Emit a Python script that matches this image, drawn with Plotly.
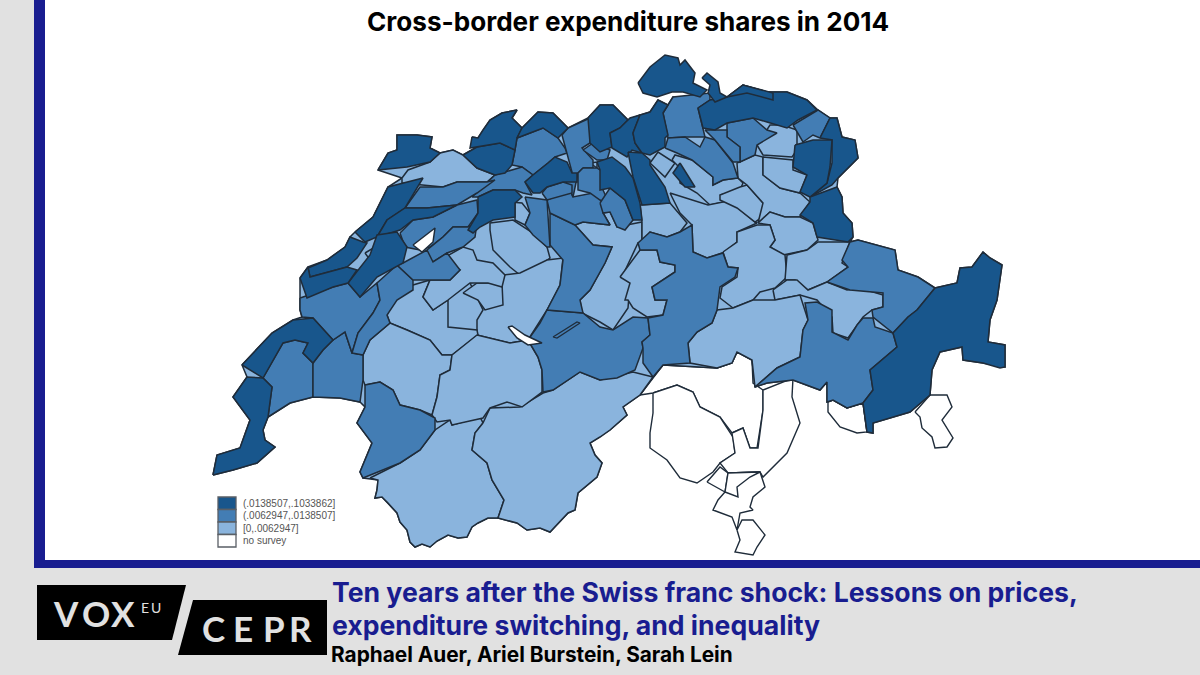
import plotly.graph_objects as go

TITLE = "Cross-border expenditure shares in 2014"
HEADLINE = ["Ten years after the Swiss franc shock: Lessons on prices,",
            "expenditure switching, and inequality"]
AUTHORS = "Raphael Auer, Ariel Burstein, Sarah Lein"

LEGEND_LABELS = ["(.0138507,.1033862]", "(.0062947,.0138507]", "[0,.0062947]", "no survey"]

DARK = "#18568C"
MEDIUM = "#437DB4"
LIGHT = "#8AB4DD"
NONE = "#FFFFFF"
LEGEND_COLORS = [DARK, MEDIUM, LIGHT, NONE]
LINE = "#1F2C3A"
NAVY = "#191D90"
BACK = "#E1E1E1"
LOGO_TEXT = "#E1E1E1"

VOX_LETTERS = ["V", "O", "X"]
VOX_CENTERS = [66, 96, 123]
EU_LETTERS = ["E", "U"]
EU_CENTERS = [145, 156]
CEPR_LETTERS = ["C", "E", "P", "R"]
CEPR_CENTERS = [213, 243, 274, 300]

# district outlines, map units
COUNTRY = [(213,475),(217,455),(240,448),(250,420),(233,397),(247,377),(242,365),(272,333),(293,320),(302,317),(300,310),(300,278),(308,267),(327,260),(345,247),(350,237),(355,232),(373,217),(388,187),(402,178),(378,170),(388,153),(397,150),(397,135),(417,135),(432,137),(430,148),(440,153),(453,150),(463,155),(477,147),(472,137),(478,138),(483,130),(490,120),(502,113),(517,110),(512,118),(522,128),(538,112),(553,113),(568,128),(588,118),(600,105),(613,105),(628,120),(640,115),(650,112),(658,100),(668,105),(673,97),(698,108),(710,100),(727,97),(743,85),(767,92),(787,92),(807,100),(818,110),(830,118),(837,118),(842,137),(855,140),(858,158),(838,178),(837,187),(842,197),(843,213),(852,223),(853,237),(850,242),(858,240),(895,250),(898,270),(918,277),(935,288),(957,283),(960,268),(972,267),(983,252),(990,258),(1002,265),(997,300),(990,320),(988,342),(1005,345),(1005,367),(983,363),(963,360),(962,347),(940,352),(932,370),(930,395),(910,412),(873,423),(873,433),(867,432),(863,403),(847,408),(833,400),(827,402),(827,382),(820,390),(793,380),(767,383),(755,387),(752,360),(737,352),(732,363),(717,368),(663,365),(653,377),(640,395),(623,407),(627,415),(610,430),(590,443),(595,455),(602,463),(597,477),(578,493),(575,510),(568,513),(550,532),(540,528),(527,530),(517,523),(498,518),(488,518),(478,523),(472,527),(467,537),(458,538),(448,535),(437,541),(430,547),(422,544),(415,547),(410,542),(407,530),(400,522),(397,513),(388,503),(382,497),(375,498),(377,490),(378,480),(363,478),(360,472),(372,443),(357,423),(365,407),(360,402),(340,398),(313,397),(290,403),(268,417),(263,430),(265,440),(275,447),(257,463),(233,470)]

NO_SURVEY_REGIONS = [
    [(640,395),(653,378),(663,365),(717,368),(732,363),(737,352),(752,360),(753,383),(763,390),(763,410),(757,448),(750,448),(743,428),(732,433),(720,417),(700,407),(693,392),(677,385),(653,393)],
    [(653,393),(677,385),(693,392),(700,407),(720,417),(733,437),(735,453),(720,463),(713,472),(697,483),(680,478),(667,460),(650,448),(650,433),(653,413)],
    [(732,433),(743,428),(750,448),(758,448),(763,410),(763,390),(793,378),(792,397),(800,423),(787,453),(763,477),(760,472),(728,473),(720,463),(735,453),(733,437)],
    [(728,473),(760,472),(765,487),(753,497),(750,507),(753,510),(740,513),(737,530),(732,517),(713,510),(718,500),(725,492)],
    [(707,482),(720,467),(728,473),(725,492)],
    [(725,492),(738,497),(737,487),(750,477),(760,472),(728,473)],
    [(737,530),(742,520),(753,520),(765,535),(757,547),(753,555),(735,552),(740,540)],
    [(828,402),(833,400),(847,408),(863,403),(867,432),(857,433),(840,427),(828,412)],
    [(915,412),(930,395),(947,395),(952,407),(942,420),(953,438),(947,447),(935,448),(932,437),(922,428),(920,417)],
]

LIGHT_REGIONS = [
    [(490,223),(513,220),(533,233),(547,247),(550,258),(533,270),(520,275),(510,267),(493,250),(490,230)],
    [(503,275),(520,273),(547,260),(563,258),(560,285),(547,310),(528,340),(510,343),(477,335),(477,320),(483,310),(478,300),(470,283)],
    [(463,293),(477,283),(502,283),(503,305),(485,310),(478,300)],
    [(393,302),(413,285),(430,280),(423,297),(433,310),(448,300),(448,327),(477,330),(478,335),(452,355),(442,355),(430,340),(407,330),(390,323),(387,315)],
    [(440,260),(463,247),(473,250),(477,260),(493,263),(505,275),(502,287),(488,283),(470,283),(448,300),(433,310),(423,297),(430,280),(450,280),(460,270)],
    [(370,478),(400,463),(420,450),(435,430),(450,420),(452,425),(480,417),(483,423),(475,433),(472,450),(487,463),(492,480),(504,500),(498,518),(488,518),(478,523),(472,527),(467,537),(458,538),(448,535),(437,541),(430,547),(422,544),(415,547),(410,542),(407,530),(400,522),(397,513),(388,503),(382,497),(375,498),(377,490),(378,480)],
    [(483,423),(490,408),(520,407),(543,393),(553,390),(580,372),(600,380),(633,372),(653,377),(640,395),(623,407),(627,415),(610,430),(600,437),(590,443),(595,455),(602,463),(597,477),(578,493),(575,510),(568,513),(550,532),(540,528),(527,530),(517,523),(498,518),(504,500),(492,480),(487,463),(472,450),(475,433)],
    [(363,380),(363,355),(370,340),(390,323),(407,330),(430,340),(442,355),(452,355),(450,370),(440,375),(437,397),(432,415),(420,410),(400,405),(393,390),(380,382),(365,385)],
    [(452,355),(477,335),(510,343),(528,340),(538,357),(542,370),(542,392),(522,407),(507,402),(490,408),(483,418),(452,425),(450,420),(437,422),(432,415),(437,397),(440,375),(450,370)],
    [(582,313),(580,300),(590,290),(605,263),(612,247),(593,245),(575,225),(583,222),(610,225),(603,213),(610,212),(617,227),(642,222),(642,242),(638,243),(622,277),(630,283),(628,308),(613,330),(600,322)],
    [(620,277),(640,250),(657,250),(660,262),(675,265),(675,272),(652,287),(655,300),(667,300),(663,315),(647,317),(633,308),(628,300),(625,300),(630,283)],
    [(640,205),(670,203),(687,223),(680,232),(667,237),(650,232),(642,242),(642,222)],
    [(650,163),(658,152),(675,163),(665,177)],
    [(672,160),(675,155),(692,160),(713,177),(713,185),(723,180),(738,178),(743,183),(740,190),(720,195),(733,200),(710,205),(697,193),(680,183),(680,168)],
    [(670,193),(708,205),(733,200),(737,207),(755,222),(757,223),(737,232),(737,242),(725,252),(707,258),(693,252),(692,225),(680,213)],
    [(740,187),(747,185),(763,203),(762,217),(755,222),(737,208),(720,200),(720,195)],
    [(737,163),(755,155),(763,157),(763,175),(780,188),(800,193),(810,202),(800,217),(785,217),(770,212),(758,223),(763,203),(747,185),(738,178)],
    [(763,157),(793,160),(793,170),(807,175),(800,193),(780,188),(763,175)],
    [(757,145),(770,125),(782,125),(797,130),(797,150),(792,157),(763,155)],
    [(758,223),(770,212),(785,217),(800,217),(813,223),(818,240),(807,250),(783,255),(770,247),(775,240),(770,225)],
    [(723,252),(737,242),(737,232),(757,225),(770,225),(775,240),(770,247),(785,255),(787,277),(775,288),(760,292),(753,300),(733,308),(720,298),(722,287),(737,277),(738,268),(728,267)],
    [(787,255),(807,250),(818,242),(827,242),(850,242),(842,263),(848,267),(827,282),(808,290),(795,280),(785,280)],
    [(773,290),(787,280),(797,280),(808,290),(827,282),(847,290),(860,288),(883,295),(883,307),(872,310),(863,317),(857,325),(848,338),(833,333),(832,317),(817,300),(800,295),(775,300)],
    [(688,343),(697,332),(712,323),(717,310),(733,308),(753,300),(775,300),(800,295),(808,320),(803,330),(800,357),(777,368),(755,387),(752,360),(737,352),(732,363),(717,368),(690,363)],
    [(402,178),(408,170),(430,162),(440,153),(453,150),(463,155),(477,168),(495,175),(487,182),(457,182),(443,187),(423,185),(402,183)],
    [(590,163),(597,162),(597,168)],
    [(510,202),(522,203),(530,213),(525,225),(515,220),(515,203)],
    [(365,253),(375,247),(378,253),(370,260)],
    [(407,270),(422,265),(413,278)],
]

MEDIUM_REGIONS = [
    [(263,378),(283,343),(295,340),(308,343),(303,353),(313,363),(313,397),(290,403),(268,417),(272,387)],
    [(313,363),(323,350),(333,340),(345,332),(352,353),(363,355),(363,380),(360,402),(340,398),(313,397)],
    [(365,385),(380,382),(393,390),(400,405),(420,410),(435,418),(435,430),(420,450),(400,463),(363,478),(360,472),(372,443),(357,423),(365,407)],
    [(528,340),(540,323),(547,310),(583,313),(600,327),(613,330),(633,317),(648,318),(650,335),(642,342),(643,348),(635,370),(617,378),(600,380),(580,372),(553,390),(543,392),(542,370),(538,357)],
    [(643,348),(642,342),(650,335),(648,318),(663,315),(667,300),(655,300),(652,287),(675,272),(675,265),(660,262),(657,250),(640,250),(638,243),(650,232),(667,237),(680,232),(692,225),(693,252),(707,258),(723,253),(728,267),(738,268),(735,277),(720,287),(717,310),(712,323),(697,332),(688,343),(690,363),(663,365),(653,377),(643,363)],
    [(550,213),(575,225),(593,245),(612,247),(605,263),(590,290),(580,300),(583,313),(547,310),(560,285),(563,260),(550,245)],
    [(547,200),(570,190),(573,197),(593,193),(610,207),(603,213),(610,225),(583,222),(575,225),(550,213)],
    [(525,197),(547,200),(550,247),(547,247),(533,235),(525,225),(530,213)],
    [(515,150),(517,138),(530,133),(543,128),(558,138),(565,148),(567,153),(555,157),(548,163),(533,175),(522,167),(512,165)],
    [(562,135),(568,128),(590,118),(590,143),(582,148),(593,160),(593,168),(583,168),(578,173),(573,197),(570,190),(563,175),(572,172),(567,153),(565,148)],
    [(542,193),(547,187),(563,182),(572,185),(572,193),(553,198),(547,200)],
    [(472,197),(495,175),(522,167),(533,175),(525,182),(532,195),(523,193),(515,190),(493,190),(478,197)],
    [(405,208),(420,187),(443,187),(457,182),(487,182),(495,180),(477,193),(457,205),(427,208)],
    [(400,233),(413,220),(433,217),(457,205),(477,200),(478,213),(468,227),(453,227),(443,237),(430,247),(420,250),(405,247)],
    [(427,250),(443,237),(453,227),(468,227),(477,223),(475,237),(463,247),(447,253),(433,262),(427,257)],
    [(300,298),(333,287),(348,283),(360,297),(377,283),(380,300),(373,313),(358,333),(352,353),(345,332),(333,340),(313,318),(302,317),(300,310)],
    [(377,283),(397,265),(413,280),(413,290),(397,300),(387,315),(390,323),(370,340),(363,355),(352,353),(358,333),(373,313),(380,300)],
    [(403,263),(427,250),(433,262),(447,253),(460,270),(450,280),(430,280),(413,280),(397,265)],
    [(583,150),(593,143),(610,150),(607,160),(597,160)],
    [(583,168),(597,168),(600,170),(610,170),(603,190),(610,205),(600,200),(590,193),(578,190),(578,173)],
    [(600,203),(610,188),(625,200),(633,220),(625,230),(617,227),(610,212),(603,213)],
    [(663,113),(673,97),(710,93),(710,100),(698,108),(703,128),(705,137),(685,137),(668,138)],
    [(665,148),(668,138),(685,137),(700,147),(705,137),(715,140),(733,163),(738,178),(723,180),(713,185),(713,177),(692,160),(677,153)],
    [(727,123),(753,118),(767,130),(777,133),(757,145),(755,155),(740,162),(740,147),(727,137)],
    [(705,130),(727,130),(727,137),(740,147),(740,162),(733,162),(715,140)],
    [(793,125),(818,110),(830,118),(820,138),(813,135),(803,142)],
    [(827,282),(848,267),(842,260),(850,242),(858,240),(895,250),(898,270),(918,277),(935,288),(917,310),(908,317),(893,333),(873,317),(872,310),(883,307),(883,293),(850,290)],
    [(755,387),(777,368),(800,357),(803,330),(808,320),(805,303),(817,302),(832,310),(832,332),(848,340),(857,325),(863,318),(873,318),(875,327),(893,333),(897,347),(870,370),(873,390),(863,403),(847,408),(833,400),(827,402),(827,382),(820,390),(793,380),(767,383)],
]

DARK_REGIONS = [
    [(213,475),(217,455),(240,448),(250,420),(233,397),(247,377),(263,378),(272,387),(268,417),(263,430),(265,440),(275,447),(257,463),(233,470)],
    [(242,365),(272,333),(293,320),(313,318),(333,340),(323,350),(313,363),(303,353),(308,343),(295,340),(283,343),(263,378)],
    [(378,170),(388,153),(397,150),(397,135),(417,135),(432,137),(430,148),(440,153),(430,162),(407,167)],
    [(463,155),(477,147),(500,143),(515,150),(512,165),(505,173),(495,175),(477,168)],
    [(472,137),(478,138),(483,130),(490,120),(502,113),(517,110),(512,118),(522,128),(517,138),(515,150),(500,143),(477,147),(470,148)],
    [(522,128),(538,112),(553,113),(563,123),(568,128),(558,138),(543,128),(530,133),(517,138)],
    [(525,182),(533,175),(548,163),(555,157),(567,162),(572,173),(577,173),(577,182),(563,182),(547,187),(540,193),(533,193)],
    [(355,232),(373,217),(388,187),(423,178),(405,208),(387,220),(377,237),(365,242)],
    [(377,237),(387,220),(405,208),(427,208),(457,205),(433,217),(413,220),(400,230)],
    [(478,197),(493,190),(515,190),(522,197),(515,203),(515,217),(493,220),(480,227),(473,233),(468,230),(478,213)],
    [(348,283),(370,255),(377,235),(397,232),(407,247),(403,263),(377,277),(360,297)],
    [(308,268),(327,260),(345,247),(350,237),(363,242),(367,243),(357,258),(347,267),(310,277)],
    [(300,278),(308,267),(310,277),(347,267),(357,270),(348,283),(333,287),(307,298)],
    [(588,118),(600,105),(613,105),(628,120),(620,128),(610,133),(612,147),(600,152),(590,143)],
    [(610,133),(620,128),(630,118),(640,115),(633,133),(635,143),(642,153),(632,150),(627,157),(612,148)],
    [(633,133),(640,115),(650,112),(658,100),(668,105),(663,113),(668,135),(665,138),(665,147),(650,155),(642,153),(635,143)],
    [(628,152),(642,153),(650,160),(650,165),(665,187),(670,203),(642,205),(633,177)],
    [(597,162),(612,157),(625,167),(633,178),(640,203),(642,220),(633,220),(625,200),(610,188),(600,190),(600,170)],
    [(680,163),(695,187),(685,187),(673,173)],
    [(698,108),(710,100),(727,97),(743,85),(767,92),(787,92),(807,100),(817,110),(798,120),(787,128),(767,122),(753,118),(727,123),(715,130),(703,128)],
    [(727,97),(743,85),(773,93),(773,100),(747,93)],
    [(638,83),(650,67),(665,55),(678,58),(680,65),(685,60),(695,73),(693,83),(707,90),(700,97),(683,92),(672,92),(657,97),(643,93)],
    [(702,78),(707,73),(718,82),(720,93),(727,97),(715,102),(708,93),(710,85)],
    [(820,138),(830,118),(837,118),(842,137),(855,140),(858,158),(838,178),(832,185),(810,197),(827,183),(832,163),(832,140)],
    [(795,145),(813,140),(832,140),(830,167),(827,183),(810,197),(800,192),(807,175),(793,167)],
    [(810,197),(837,187),(842,197),(843,213),(852,223),(853,237),(848,242),(817,237),(813,223),(800,215),(810,202)],
    [(917,310),(935,288),(957,283),(960,268),(972,267),(983,252),(990,258),(1002,265),(997,300),(990,320),(988,342),(1005,345),(1005,367),(1000,368),(983,363),(963,360),(962,347),(940,352),(932,370),(930,395),(910,412),(883,420),(873,423),(873,433),(867,432),(863,403),(873,390),(870,370),(897,347),(893,333),(908,317)],
]

LAKES = [
    [(508,327),(512,326),(525,335),(542,343),(528,345),(517,338)],
    [(413,245),(435,228),(433,242),(422,252)],
]
SARNEN_LAKE = [(553,337),(577,322),(580,323),(557,338)]

fig = go.Figure()


def add_region(points, fill, width=1.5):
    xs = [p[0] for p in points] + [points[0][0]]
    ys = [p[1] for p in points] + [points[0][1]]
    fig.add_trace(go.Scatter(x=xs, y=ys, mode="lines", fill="toself", fillcolor=fill,
                             line=dict(color=LINE, width=width), hoverinfo="skip",
                             showlegend=False))


for r in NO_SURVEY_REGIONS:
    add_region(r, NONE, 1.4)
add_region(COUNTRY, LIGHT)
for r in LIGHT_REGIONS:
    add_region(r, LIGHT)
for r in MEDIUM_REGIONS:
    add_region(r, MEDIUM)
for r in DARK_REGIONS:
    add_region(r, DARK)
for r in LAKES:
    add_region(r, NONE)
add_region(SARNEN_LAKE, MEDIUM, 1.2)

shapes = [
    # white panel with the navy frame
    dict(type="rect", xref="x", yref="y", x0=34, x1=1200, y0=0, y1=568, fillcolor=NAVY, line_width=0, layer="below"),
    dict(type="rect", xref="x", yref="y", x0=45, x1=1200, y0=0, y1=560, fillcolor="white", line_width=0, layer="below"),
    # logo blocks
    dict(type="path", xref="x", yref="y", path="M37 585 L186 585 L172 640 L37 640 Z", fillcolor="black", line_width=0),
    dict(type="path", xref="x", yref="y", path="M193 600 L327 600 L327 655 L178 655 Z", fillcolor="black", line_width=0),
]

annotations = [
    dict(text="<b>%s</b>" % TITLE, x=628, y=21, font=dict(family="Inter", size=26.1, color="black")),
    dict(text="<b>%s</b>" % HEADLINE[0], x=330, y=592, xanchor="left", font=dict(family="Inter", size=26.6, color=NAVY)),
    dict(text="<b>%s</b>" % HEADLINE[1], x=330, y=625, xanchor="left", font=dict(family="Inter", size=26.6, color=NAVY)),
    dict(text="<b>%s</b>" % AUTHORS, x=329, y=654, xanchor="left", font=dict(family="Inter", size=20.8, color="black")),
]

for letter, x in zip(VOX_LETTERS, VOX_CENTERS):
    annotations.append(dict(text="<b>%s</b>" % letter, x=x, y=612.5, font=dict(family="Lato", size=35, color=LOGO_TEXT)))
for letter, x in zip(EU_LETTERS, EU_CENTERS):
    annotations.append(dict(text=letter, x=x, y=607, font=dict(family="Lato", size=14, color=LOGO_TEXT)))
for letter, x in zip(CEPR_LETTERS, CEPR_CENTERS):
    annotations.append(dict(text="<b>%s</b>" % letter, x=x, y=628, font=dict(family="Lato", size=35, color=LOGO_TEXT)))

# stata style legend, bottom left of the map
for i, (label, color) in enumerate(zip(LEGEND_LABELS, LEGEND_COLORS)):
    top = 497 + i * 12.5
    shapes.append(dict(type="rect", xref="x", yref="y", x0=218, x1=236, y0=top, y1=top + 12.5,
                       fillcolor=color, line=dict(color="#5A5F66", width=1.3)))
    annotations.append(dict(text=label, x=241, y=top + 6, xanchor="left",
                            font=dict(family="Liberation Sans", size=10, color="#555555")))

for a in annotations:
    a.update(xref="x", yref="y", showarrow=False)
    a.setdefault("xanchor", "center")
    a.setdefault("yanchor", "middle")

fig.update_layout(
    width=1200, height=675, margin=dict(l=0, r=0, t=0, b=0),
    paper_bgcolor=BACK, plot_bgcolor=BACK,
    xaxis=dict(range=[0, 1200], visible=False, fixedrange=True),
    yaxis=dict(range=[675, 0], visible=False, fixedrange=True),
    shapes=shapes, annotations=annotations, showlegend=False,
)

# the browser's default body margin would push the page off by 8 px
fig.write_html("out.html", config={"displayModeBar": False},
               post_script="document.body.style.margin='0';")
